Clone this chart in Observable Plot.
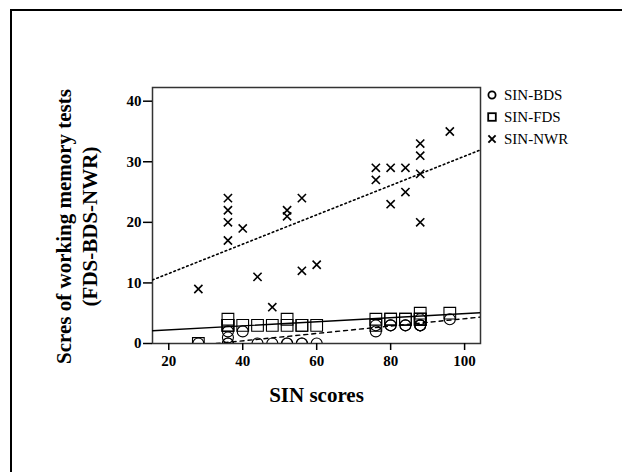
<!DOCTYPE html>
<html><head><meta charset="utf-8">
<script src="https://cdn.jsdelivr.net/npm/d3@7"></script>
<script src="https://cdn.jsdelivr.net/npm/@observablehq/plot@0.6"></script>
<style>
body{margin:0;background:#fff;}
#wrap{position:relative;width:622px;height:472px;overflow:hidden;background:#fff;}
#border{position:absolute;left:10px;top:9px;width:700px;height:600px;border-left:2px solid #000;border-top:2px solid #000;}
#chart{position:absolute;left:0;top:0;}
#legend{position:absolute;left:486px;top:84px;font-family:"Liberation Serif","Times New Roman",serif;font-size:15px;color:#000;}
#legend .row{height:22px;display:flex;align-items:center;}
#legend svg{width:12px;height:12px;margin-right:6px;}
</style></head><body>
<div id="wrap"><div id="border"></div><div id="chart"></div><div id="legend"></div></div>
<script>
// SIN scores (x) per participant
const sinScores = [28,36,36,36,36,40,44,48,52,52,56,56,60,76,76,80,80,84,84,88,88,88,88,96];
// working memory test scores
const nwrScores = [9,24,22,20,17,19,11,6,22,21,24,12,13,29,27,29,23,29,25,33,31,28,20,35];
const fdsScores = [0,4,3,3,3,3,3,3,4,3,3,3,3,4,3,4,4,4,4,5,4,4,4,5];
const bdsScores = [0,2,1,0,0,2,0,0,0,0,0,0,0,3,2,3,3,3,3,4,3,3,3,4];
// series and fitted regression lines (intercept, slope)
const seriesNames = ["SIN-BDS", "SIN-FDS", "SIN-NWR"];
const fitIntercept = [-2.0, 1.58, 6.72];
const fitSlope = [0.061, 0.0335, 0.242];
const xTicks = [20, 40, 60, 80, 100];
const yTicks = [0, 10, 20, 30, 40];
const xDomain = [15.6, 104.3];
const yDomain = [0, 42.26];
const xLabel = "SIN scores";
const yLabel = "Scres of working memory tests\n(FDS-BDS-NWR)";

const pts = (ys) => sinScores.map((x, i) => ({x, y: ys[i]}));
const fit = (k) => xDomain.map(x => ({x, y: fitIntercept[k] + fitSlope[k] * x}));

const chart = Plot.plot({
  width: 622, height: 472,
  marginLeft: 152, marginRight: 142, marginTop: 87, marginBottom: 129,
  x: {domain: xDomain},
  y: {domain: yDomain},
  style: {fontFamily: "'Liberation Serif','Times New Roman',serif", fontSize: "15px", fontWeight: "bold", background: "transparent", color: "#000"},
  marks: [
    Plot.frame({stroke: "#333", strokeWidth: 1.5}),
    Plot.axisX({ticks: xTicks, tickSize: 7, tickPadding: 5, label: null, strokeWidth: 1.5}),
    Plot.axisY({ticks: yTicks, tickSize: 9, tickPadding: 2, label: null, strokeWidth: 1.5}),
    Plot.line(fit(0), {x: "x", y: "y", stroke: "#000", strokeWidth: 1.4, strokeDasharray: "4,4", clip: true}),
    Plot.line(fit(1), {x: "x", y: "y", stroke: "#000", strokeWidth: 1.4, clip: true}),
    Plot.line(fit(2), {x: "x", y: "y", stroke: "#000", strokeWidth: 1.6, strokeDasharray: "1.6,3", clip: true}),
    Plot.dot(pts(bdsScores), {x: "x", y: "y", symbol: "circle", r: 5.5, stroke: "#000", fill: "none", strokeWidth: 1.1, clip: true}),
    Plot.dot(pts(fdsScores), {x: "x", y: "y", symbol: "square", r: 6.6, stroke: "#000", fill: "none", strokeWidth: 1.1, clip: true}),
    Plot.dot(pts(nwrScores), {x: "x", y: "y", symbol: "times", r: 3.8, stroke: "#000", strokeWidth: 1.6, clip: true}),
    Plot.text([xLabel], {frameAnchor: "bottom", dy: 52, lineAnchor: "middle", textAnchor: "middle", fontSize: 21, fontWeight: "bold"}),
    Plot.text([yLabel], {frameAnchor: "left", dx: -77, dy: 11, rotate: -90, textAnchor: "middle", lineAnchor: "middle", fontSize: 21, fontWeight: "bold", lineHeight: 1.24})
  ]
});
document.getElementById("chart").appendChild(chart);

const symbolSvgs = [
  '<svg viewBox="0 0 12 12"><circle cx="6" cy="6" r="3.6" fill="none" stroke="#000" stroke-width="1.8"/></svg>',
  '<svg viewBox="0 0 12 12"><rect x="2.2" y="2.2" width="7.6" height="7.6" fill="none" stroke="#000" stroke-width="1.8"/></svg>',
  '<svg viewBox="0 0 12 12"><path d="M2.4,2.4L9.6,9.6M9.6,2.4L2.4,9.6" stroke="#000" stroke-width="1.9"/></svg>'
];
const legend = document.getElementById("legend");
seriesNames.forEach((name, i) => {
  const row = document.createElement("div");
  row.className = "row";
  row.innerHTML = symbolSvgs[i] + "<span>" + name + "</span>";
  legend.appendChild(row);
});
</script>
</body></html>
